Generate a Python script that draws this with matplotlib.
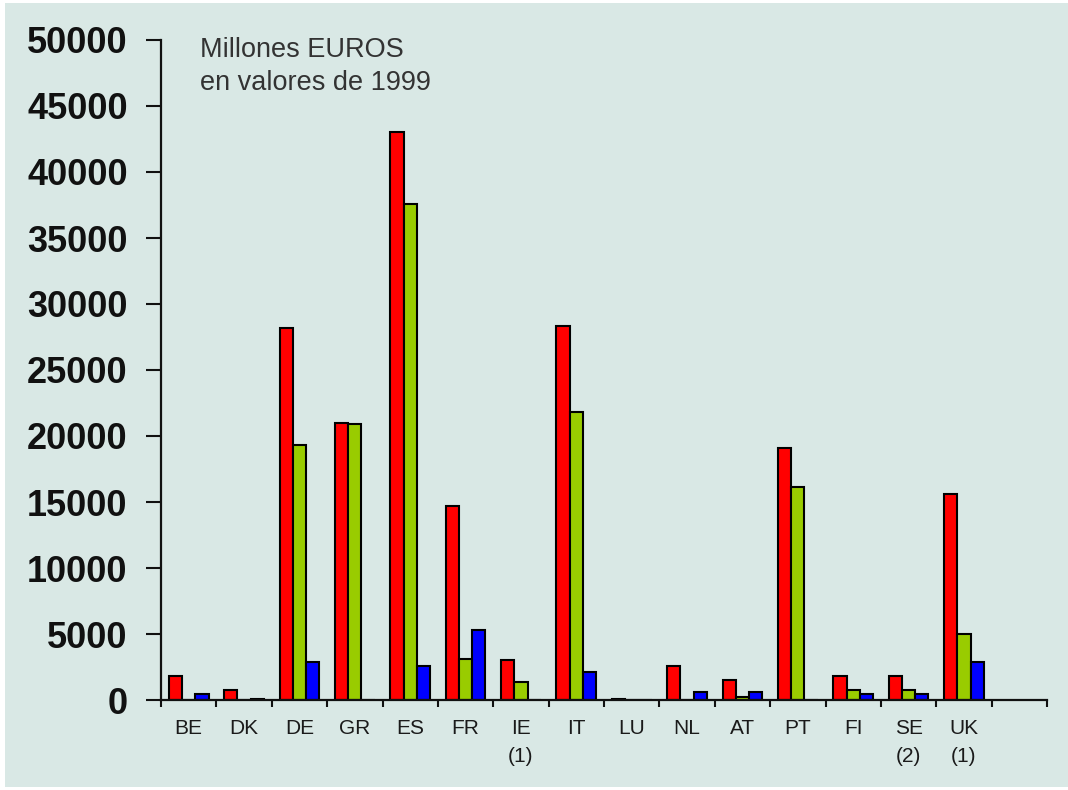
import matplotlib
matplotlib.use('Agg')
import matplotlib.pyplot as plt
from matplotlib.patches import Rectangle
import numpy as np

# data (millones de euros, valores de 1999)
countries = ['BE', 'DK', 'DE', 'GR', 'ES', 'FR', 'IE\n(1)', 'IT', 'LU', 'NL',
             'AT', 'PT', 'FI', 'SE\n(2)', 'UK\n(1)']
red_vals = [1800, 750, 28200, 21000, 43000, 14700, 3000, 28300, 100, 2550,
            1500, 19100, 1800, 1800, 15600]
green_vals = [0, 0, 19300, 20900, 37600, 3100, 1350, 21800, 0, 0,
              250, 16100, 750, 750, 5000]
blue_vals = [450, 100, 2900, 0, 2600, 5300, 0, 2100, 0, 600,
             600, 0, 450, 450, 2900]
y_ticks = [0, 5000, 10000, 15000, 20000, 25000, 30000, 35000, 40000, 45000, 50000]

bg = '#d9e8e5'
fig = plt.figure(figsize=(10.68, 7.9), dpi=100, facecolor='white')
fig.patches.append(Rectangle((5 / 1068, 3 / 790), 1063 / 1068, 784 / 790,
                             transform=fig.transFigure, facecolor=bg,
                             edgecolor='none', zorder=-5))
ax = fig.add_axes([161 / 1068, 90 / 790, 886 / 1068, 660 / 790])
ax.set_facecolor(bg)
ax.set_zorder(2)

x = np.arange(len(countries))
w = 0.24
kw = dict(width=w, edgecolor='black', linewidth=1.5)
ax.bar(x - w, red_vals, color='#ff0000', **kw)
ax.bar(x, green_vals, color='#99cc00', **kw)
ax.bar(x + w, blue_vals, color='#0000ff', **kw)

ax.set_xlim(-0.5, len(countries) + 0.5)
ax.set_ylim(0, 50000)

for s in ['top', 'right']:
    ax.spines[s].set_visible(False)
for s in ['left', 'bottom']:
    ax.spines[s].set_linewidth(1.6)
    ax.spines[s].set_color('#111111')

ax.set_yticks(y_ticks)
ax.set_yticklabels([str(v) for v in y_ticks], fontsize=26, fontweight='bold',
                   family='Liberation Sans', color='#111111')
ax.tick_params(axis='y', length=11, width=1.5, pad=13, color='#111111')

# boundary ticks unlabeled, category names on minor ticks at bar centres
ax.set_xticks(np.arange(-0.5, len(countries) + 1, 1.0))
ax.set_xticklabels([])
ax.tick_params(axis='x', which='major', length=5, width=1.5, color='#111111')
ax.set_xticks(x, minor=True)
ax.set_xticklabels(countries, minor=True, fontsize=15, family='Liberation Sans',
                   color='#1a1a1a', linespacing=1.6)
ax.tick_params(axis='x', which='minor', length=0, pad=14)

ax.text(200 / 1068, 1 - 37 / 790, 'Millones EUROS\nen valores de 1999',
        transform=fig.transFigure, fontsize=19.5, family='Liberation Sans',
        color='#333333', va='top', ha='left', linespacing=1.35)

fig.savefig('out.png', dpi=100, facecolor=fig.get_facecolor())
